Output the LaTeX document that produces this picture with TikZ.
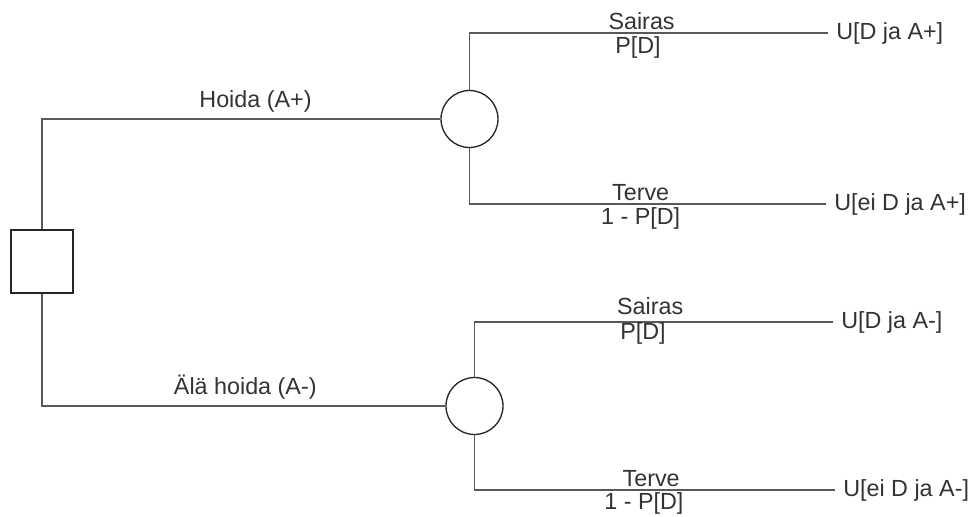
\documentclass[tikz,border=0pt]{standalone}
\usepackage{fontspec}
\setmainfont{Liberation Sans}
\begin{document}
\begin{tikzpicture}[x=0.75pt,y=-0.75pt,
  every node/.style={font=\fontsize{17.5}{20}\selectfont, text=black!80},
  branch/.style={draw=black!65, line width=1.3pt},
  decision/.style={draw=black!85, line width=1.1pt, rectangle, minimum width=46.5pt, minimum height=47.25pt, inner sep=0pt},
  chance/.style={draw=black!85, line width=1.0pt, circle, minimum size=42.75pt, inner sep=0pt},
  lab/.style={inner sep=2pt},
  outc/.style={anchor=west, inner sep=6pt}]
\useasboundingbox (0,0) rectangle (976,517);
\node[decision] (d) at (42,261.5) {};
\node[chance] (c1) at (469.5,119) {};
\node[chance] (c2) at (474.5,406) {};
\coordinate (e1) at (828,33);
\coordinate (e2) at (826,204);
\coordinate (e3) at (833,322);
\coordinate (e4) at (835,490);
\draw[branch] (d.north) |- node[pos=0.768, above, lab, inner sep=4pt] {Hoida (A+)} (c1.west);
\draw[branch] (d.south) |- node[pos=0.752, above, lab, inner sep=4pt] {Älä hoida (A-)} (c2.west);
\draw[branch] (c1.north) |- node[pos=0.74, above, lab] {Sairas} node[pos=0.735, below, lab] {P[D]} (e1);
\draw[branch] (c1.south) |- node[pos=0.74, above, lab] {Terve} node[pos=0.74, below, lab] {1 - P[D]} (e2);
\draw[branch] (c2.north) |- node[pos=0.745, above, lab, inner sep=5pt] {Sairas} node[pos=0.735, below, lab, inner sep=0pt] {P[D]} (e3);
\draw[branch] (c2.south) |- node[pos=0.745, above, lab] {Terve} node[pos=0.735, below, lab, inner sep=1pt] {1 - P[D]} (e4);
\node[outc] (u1) at (e1) {U[D ja A+]};
\node[outc] (u2) at (e2) {U[ei D ja A+]};
\node[outc] (u3) at (e3) {U[D ja A-]};
\node[outc] (u4) at (e4) {U[ei D ja A-]};
\end{tikzpicture}
\end{document}
